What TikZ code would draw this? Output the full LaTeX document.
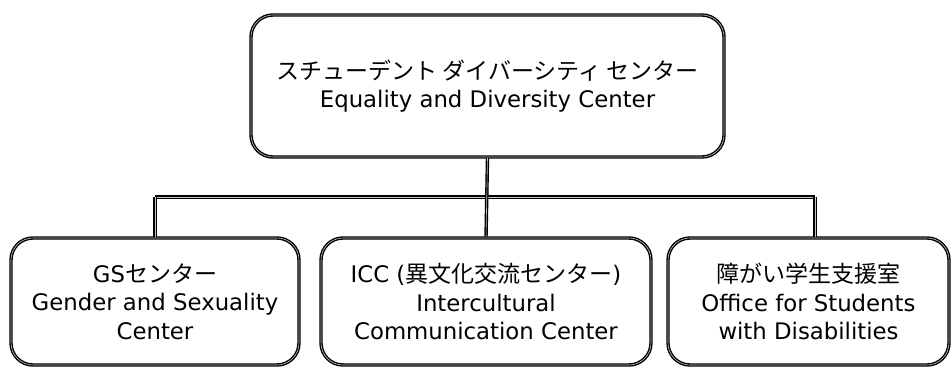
\documentclass[tikz,border=0pt]{standalone}
\usepackage{fontspec}
\setmainfont{DejaVu Sans}
\newfontfamily\jp{Noto Sans CJK JP}
\newcommand{\J}[1]{{\jp\fontsize{23}{28.5}\selectfont #1}}
\begin{document}
\begin{tikzpicture}[x=1pt,y=-1pt,
  box/.style={draw=black, line width=1.4pt, double=gray!45, double distance=0.6pt,
    rounded corners=22pt, fill=white, align=center, inner sep=0pt,
    font=\fontsize{22.8}{28.5}\selectfont},
  link/.style={draw=black, line width=1.4pt, double=gray!45, double distance=0.6pt}]
\useasboundingbox (0,0) rectangle (952,367);
\node[box, minimum width=473pt, minimum height=142pt] (top) at (487.5,86) {\J{スチューデント ダイバーシティ センター}\\Equality and Diversity Center};
\node[box, minimum width=288pt, minimum height=127pt] (gs) at (155,301.5) {GS\J{センター}\\Gender and Sexuality\\Center};
\node[box, minimum width=330pt, minimum height=127pt] (icc) at (486,301.5) {ICC (\J{異文化交流センター})\\Intercultural\\Communication Center};
\node[box, minimum width=281pt, minimum height=127pt] (osd) at (808.5,301.5) {\J{障がい学生支援室}\\Office for Students\\with Disabilities};
\coordinate (busL) at (gs.north |- 0,197);
\coordinate (busR) at (815,197);
\draw[link] (busL) -- (busR);
\draw[link] (busL) -- (gs.north);
\draw[link] (top.south) -- (icc.north);
\draw[link] (busR) -- (busR |- osd.north);
\end{tikzpicture}
\end{document}
